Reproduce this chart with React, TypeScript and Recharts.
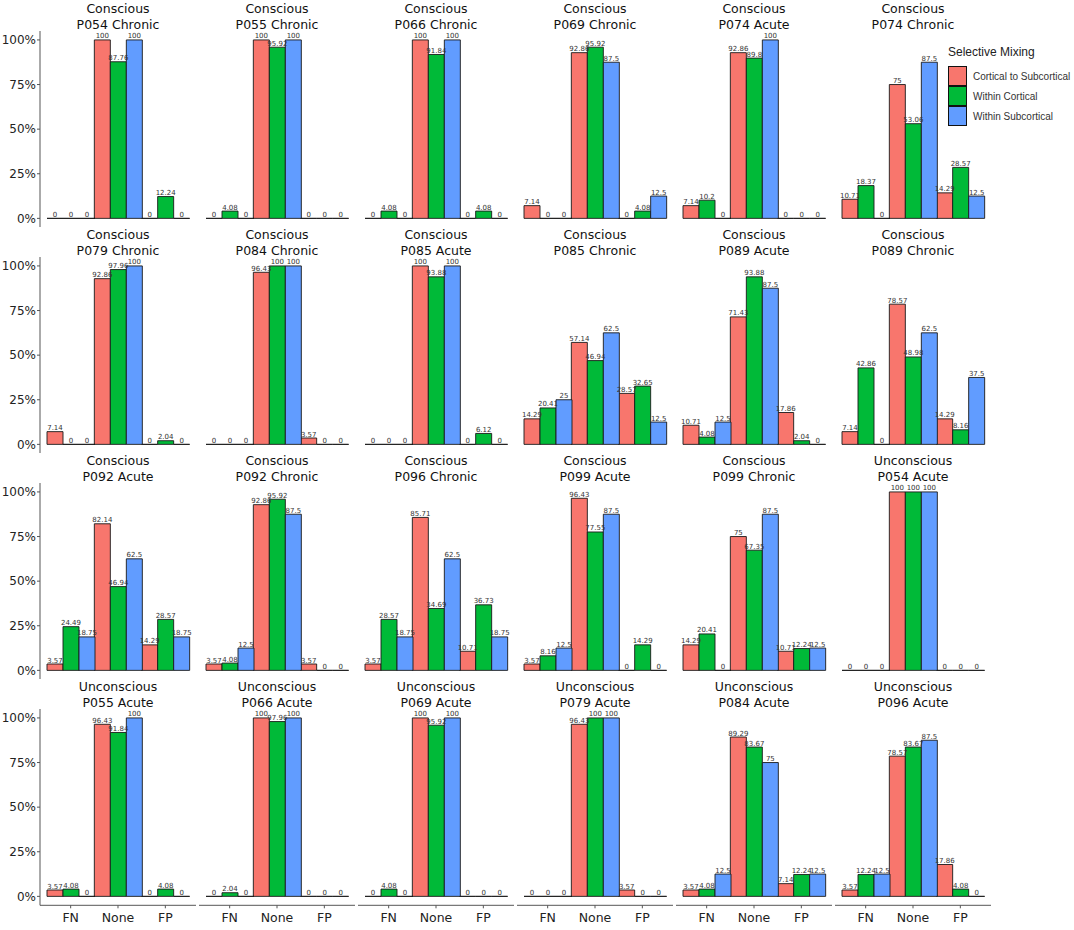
import React from 'react';
import { BarChart, Bar, XAxis, YAxis, LabelList } from 'recharts';

const categories = ['FN', 'None', 'FP'];
const seriesNames = ['Cortical to Subcortical', 'Within Cortical', 'Within Subcortical'];
const seriesColors = ['#F8766D', '#00BA38', '#619CFF'];
const yTicks = [0, 25, 50, 75, 100];

const panelGroups = [
  'Conscious', 'Conscious', 'Conscious', 'Conscious', 'Conscious', 'Conscious',
  'Conscious', 'Conscious', 'Conscious', 'Conscious', 'Conscious', 'Conscious',
  'Conscious', 'Conscious', 'Conscious', 'Conscious', 'Conscious', 'Unconscious',
  'Unconscious', 'Unconscious', 'Unconscious', 'Unconscious', 'Unconscious', 'Unconscious',
];

const panelPatients = [
  'P054 Chronic', 'P055 Chronic', 'P066 Chronic', 'P069 Chronic', 'P074 Acute', 'P074 Chronic',
  'P079 Chronic', 'P084 Chronic', 'P085 Acute', 'P085 Chronic', 'P089 Acute', 'P089 Chronic',
  'P092 Acute', 'P092 Chronic', 'P096 Chronic', 'P099 Acute', 'P099 Chronic', 'P054 Acute',
  'P055 Acute', 'P066 Acute', 'P069 Acute', 'P079 Acute', 'P084 Acute', 'P096 Acute',
];

// values per panel: [FN, None, FP]
const corticalToSubcortical = [
  [0, 100, 0], [0, 100, 0], [0, 100, 0], [7.14, 92.86, 0], [7.14, 92.86, 0], [10.71, 75, 14.29],
  [7.14, 92.86, 0], [0, 96.43, 3.57], [0, 100, 0], [14.29, 57.14, 28.57], [10.71, 71.43, 17.86], [7.14, 78.57, 14.29],
  [3.57, 82.14, 14.29], [3.57, 92.86, 3.57], [3.57, 85.71, 10.71], [3.57, 96.43, 0], [14.29, 75, 10.71], [0, 100, 0],
  [3.57, 96.43, 0], [0, 100, 0], [0, 100, 0], [0, 96.43, 3.57], [3.57, 89.29, 7.14], [3.57, 78.57, 17.86],
];

const withinCortical = [
  [0, 87.76, 12.24], [4.08, 95.92, 0], [4.08, 91.84, 4.08], [0, 95.92, 4.08], [10.2, 89.8, 0], [18.37, 53.06, 28.57],
  [0, 97.96, 2.04], [0, 100, 0], [0, 93.88, 6.12], [20.41, 46.94, 32.65], [4.08, 93.88, 2.04], [42.86, 48.98, 8.16],
  [24.49, 46.94, 28.57], [4.08, 95.92, 0], [28.57, 34.69, 36.73], [8.16, 77.55, 14.29], [20.41, 67.35, 12.24], [0, 100, 0],
  [4.08, 91.84, 4.08], [2.04, 97.96, 0], [4.08, 95.92, 0], [0, 100, 0], [4.08, 83.67, 12.24], [12.24, 83.67, 4.08],
];

const withinSubcortical = [
  [0, 100, 0], [0, 100, 0], [0, 100, 0], [0, 87.5, 12.5], [0, 100, 0], [0, 87.5, 12.5],
  [0, 100, 0], [0, 100, 0], [0, 100, 0], [25, 62.5, 12.5], [12.5, 87.5, 0], [0, 62.5, 37.5],
  [18.75, 62.5, 18.75], [12.5, 87.5, 0], [18.75, 62.5, 18.75], [12.5, 87.5, 0], [0, 87.5, 12.5], [0, 100, 0],
  [0, 100, 0], [0, 100, 0], [0, 100, 0], [0, 100, 0], [12.5, 75, 12.5], [12.5, 87.5, 0],
];

const seriesValues = [corticalToSubcortical, withinCortical, withinSubcortical];

const COLS = 6;
const COL_PITCH = 159;
const ROW_PITCH = 226.1;
const PLOT_LEFT = 40;
const PLOT_W = 156;
const PLOT_H = 196.3;
const PLOT_TOP = 31;
const X_AXIS_H = 30;
const Y_AXIS_W = 40;
const FONT = "'DejaVu Sans', sans-serif";

function BarShape(props: any) {
  const { x, y, width, height, fill } = props;
  if (x == null || y == null) return null;
  const d = `M${x},${y}h${width}v${height}h${-width}Z`;
  return <path d={d} fill={fill} stroke="#1a1a1a" strokeWidth={0.9} />;
}

function Panel({ idx }: { idx: number }) {
  const r = Math.floor(idx / COLS);
  const c = idx % COLS;
  const isFirstCol = c === 0;
  const isBottom = r === 3;
  const data = categories.map((cat, i) => ({
    cat,
    s0: corticalToSubcortical[idx][i],
    s1: withinCortical[idx][i],
    s2: withinSubcortical[idx][i],
  }));
  const left = isFirstCol ? PLOT_LEFT - Y_AXIS_W : PLOT_LEFT + COL_PITCH * c;
  const top = PLOT_TOP + ROW_PITCH * r;
  const width = (isFirstCol ? Y_AXIS_W : 0) + PLOT_W;
  const height = PLOT_H + (isBottom ? X_AXIS_H : 0);
  return (
    <div style={{ position: 'absolute', left, top }}>
      <BarChart
        width={width}
        height={height}
        data={data}
        margin={{ top: 0, right: 0, bottom: 0, left: 0 }}
        barCategoryGap={0}
        barGap={0}
      >
        <XAxis
          dataKey="cat"
          hide={!isBottom}
          height={X_AXIS_H}
          padding={{ left: 7, right: 7 }}
          interval={0}
          tickSize={3}
          tickMargin={4.5}
          axisLine={{ stroke: '#555', strokeWidth: 1 }}
          tickLine={{ stroke: '#555' }}
          tick={{ fontSize: 12.5, fill: '#222', fontFamily: FONT }}
        />
        <YAxis
          type="number"
          domain={[-5, 105]}
          ticks={yTicks}
          hide={!isFirstCol}
          width={Y_AXIS_W}
          tickFormatter={(v: number) => `${v}%`}
          tickSize={3}
          tickMargin={1}
          axisLine={{ stroke: '#555', strokeWidth: 1 }}
          tickLine={{ stroke: '#555' }}
          tick={{ fontSize: 12, fill: '#222', fontFamily: FONT }}
          allowDataOverflow
        />
        {seriesNames.map((name, si) => (
          <Bar
            key={name}
            dataKey={`s${si}`}
            name={name}
            fill={seriesColors[si]}
            isAnimationActive={false}
            shape={BarShape}
          >
            <LabelList
              dataKey={`s${si}`}
              position="top"
              offset={1.5}
              fontSize={7}
              fill="#333"
              fontFamily={FONT}
            />
          </Bar>
        ))}
      </BarChart>
    </div>
  );
}

function Title({ idx }: { idx: number }) {
  const r = Math.floor(idx / COLS);
  const c = idx % COLS;
  return (
    <div
      style={{
        position: 'absolute',
        left: PLOT_LEFT + COL_PITCH * c - 20,
        width: PLOT_W + 40,
        top: 1 + ROW_PITCH * r,
        textAlign: 'center',
        fontFamily: FONT,
        fontSize: 12.5,
        lineHeight: '16px',
        color: '#111',
      }}
    >
      <div>{panelGroups[idx]}</div>
      <div>{panelPatients[idx]}</div>
    </div>
  );
}

function Legend() {
  return (
    <div style={{ position: 'absolute', left: 948, top: 44, fontFamily: "'Liberation Sans', Arial, sans-serif" }}>
      <div style={{ fontSize: 12, lineHeight: '16px', color: '#222', whiteSpace: 'nowrap' }}>Selective Mixing</div>
      <div style={{ marginTop: 6 }}>
        {seriesNames.map((name, i) => (
          <div key={name} style={{ display: 'flex', alignItems: 'center', height: 20 }}>
            <div
              style={{
                width: 17,
                height: 18,
                background: seriesColors[i],
                border: '1.2px solid #111',
                boxSizing: 'content-box',
              }}
            />
            <div style={{ marginLeft: 6, fontSize: 10, color: '#333', whiteSpace: 'nowrap' }}>{name}</div>
          </div>
        ))}
      </div>
    </div>
  );
}

export default function App() {
  const idxs = panelPatients.map((_, i) => i);
  return (
    <div style={{ position: 'absolute', left: 0, top: 0, width: 1074, height: 930, background: '#fff', overflow: 'hidden' }}>
      {idxs.map((i) => (
        <Title key={`t${i}`} idx={i} />
      ))}
      {idxs.map((i) => (
        <Panel key={`p${i}`} idx={i} />
      ))}
      <Legend />
    </div>
  );
}
